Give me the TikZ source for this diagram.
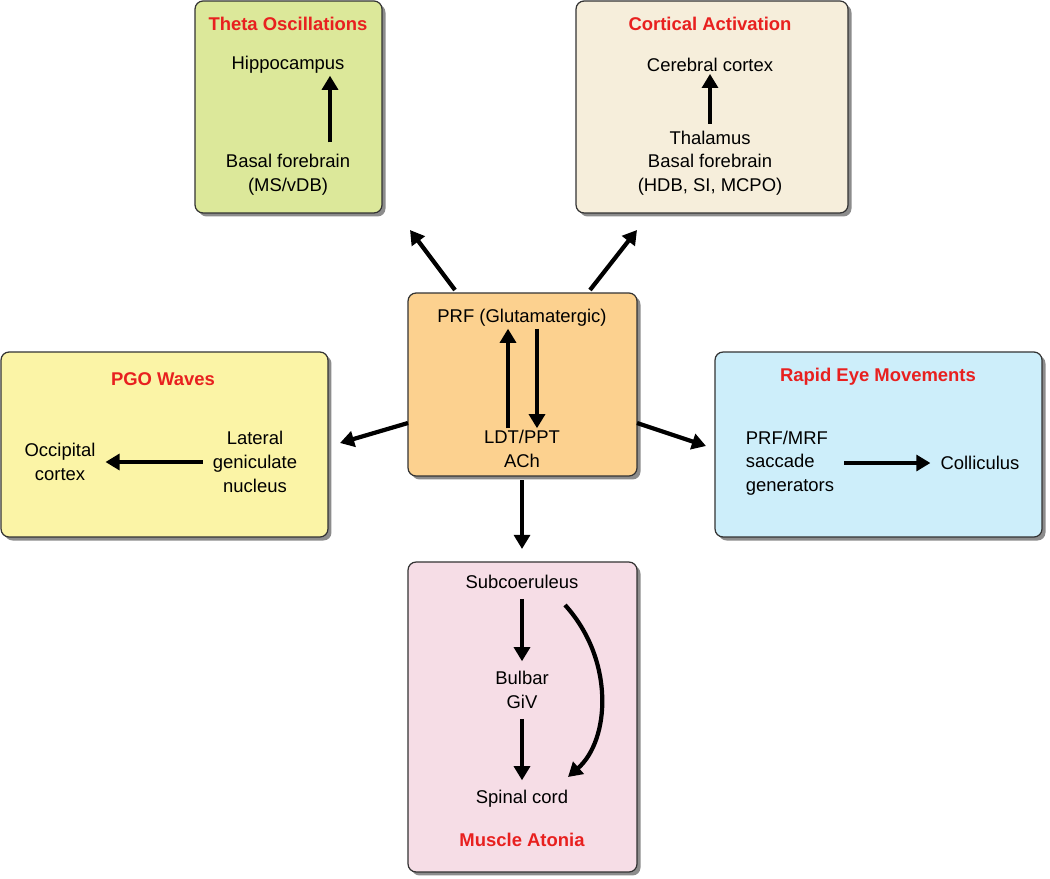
\documentclass[tikz,border=0pt]{standalone}
\usepackage{fontspec}
\setmainfont{Liberation Sans}
\usetikzlibrary{arrows.meta,shadows,calc}
\definecolor{cgreen}{HTML}{DCE89A}
\definecolor{cbeige}{HTML}{F6EEDB}
\definecolor{corange}{HTML}{FCD18F}
\definecolor{cyellow}{HTML}{FBF4A6}
\definecolor{cblue}{HTML}{CDEEFA}
\definecolor{cpink}{HTML}{F6DDE6}
\definecolor{tred}{HTML}{E8201F}
\begin{document}
\begin{tikzpicture}[x=0.02cm,y=-0.02cm,
  box/.style={draw=black!80,line width=0.7pt,rounded corners=0.16cm,inner sep=0,
    drop shadow={shadow xshift=2pt,shadow yshift=-2pt,fill=black!45,opacity=1}},
  txt/.style={font=\fontsize{10.5}{13.5}\selectfont,align=center,inner sep=1pt},
  ttl/.style={font=\fontsize{10.5}{13}\selectfont\bfseries,text=tred},
  arr/.style={line width=2.4pt,-{Triangle[length=8pt,width=9pt]}}]
\useasboundingbox (0,0) rectangle (1050,878);
% boxes
\node[box,fill=cgreen,minimum width=3.74cm,minimum height=4.24cm] (theta) at (288.5,107) {};
\node[box,fill=cbeige,minimum width=5.44cm,minimum height=4.24cm] (cort) at (712,107) {};
\node[box,fill=corange,minimum width=4.58cm,minimum height=3.66cm] (prf) at (522.5,384.5) {};
\node[box,fill=cyellow,minimum width=6.54cm,minimum height=3.7cm] (pgo) at (164.5,444.5) {};
\node[box,fill=cblue,minimum width=6.54cm,minimum height=3.7cm] (rem) at (878.5,444.5) {};
\node[box,fill=cpink,minimum width=4.58cm,minimum height=6.2cm] (mus) at (522.5,717) {};
% theta
\node[ttl] (thetaT) at (288,24) {Theta Oscillations};
\node[txt] (hip) at (288,65) {Hippocampus};
\node[txt] (bf1) at (288,175) {Basal forebrain\\(MS/vDB)};
\draw[arr] ($(bf1.north)+(42,-10)$) coordinate (a1) -- (hip.south -| a1);
% cortical
\node[ttl] (cortT) at (710,24) {Cortical Activation};
\node[txt] (cc) at (710,65) {Cerebral cortex};
\node[txt] (thal) at (710,163) {Thalamus\\Basal forebrain\\(HDB, SI, MCPO)};
\draw[arr] ($(thal.north)+(0,-5)$) -- (cc.south);
% prf
\node[txt] (prfT) at (522,318) {PRF (Glutamatergic)};
\node[txt] (ldt) at (522,449) {LDT/PPT\\ACh};
\draw[arr] (ldt.north -| 508,0) -- (prfT.south -| 508,0);
\draw[arr] (prfT.south -| 537,0) -- (ldt.north -| 537,0);
% pgo
\node[ttl] (pgoT) at (163,379) {PGO Waves};
\node[txt] (occ) at (60,462) {Occipital\\cortex};
\node[txt] (lgn) at (255,462) {Lateral\\geniculate\\nucleus};
\draw[arr] ($(lgn.west)+(-8,0)$) -- ($(occ.east)+(8,0)$);
% rem
\node[ttl] (remT) at (878,377) {Rapid Eye Movements};
\node[txt,align=left] (sacc) at (790,463) {PRF/MRF\\saccade\\generators};
\node[txt] (coll) at (980,463) {Colliculus};
\draw[arr] ($(sacc.east)+(8,0)$) -- ($(coll.west)+(-8,0)$);
% muscle
\node[txt] (sub) at (522,582) {Subcoeruleus};
\node[txt] (bul) at (522,690) {Bulbar\\GiV};
\node[txt] (sc) at (522,799) {Spinal cord};
\node[ttl] (musT) at (522,840) {Muscle Atonia};
\draw[arr] ($(sub.south)+(0,8)$) -- ($(bul.north)+(0,-8)$);
\draw[arr] ($(bul.south)+(0,8)$) -- ($(sc.north)+(0,-8)$);
\coordinate (c1) at (565,605); \coordinate (c2) at (568,777);
\draw[arr] (c1) .. controls (615,660) and (610,740) .. (c2);
% outer arrows
\coordinate (o1) at (455,290); \coordinate (e1) at (410,230);
\coordinate (o2) at (590,290); \coordinate (e2) at (637,230);
\coordinate (o3) at (408,423); \coordinate (e3) at (340,443);
\coordinate (o4) at (637,423); \coordinate (e4) at (706,446);
\coordinate (o5) at (522,480); \coordinate (e5) at (522,549);
\foreach \i in {1,...,5} \draw[arr] (o\i) -- (e\i);
\end{tikzpicture}
\end{document}
